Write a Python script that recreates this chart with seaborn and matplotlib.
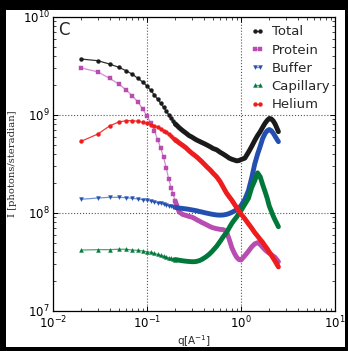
import numpy as np
import pandas as pd
import seaborn as sns
import matplotlib
matplotlib.use("Agg")
import matplotlib.pyplot as plt
from matplotlib.patches import Rectangle

# scattering vector q [1/A]
q = [0.02, 0.03, 0.04, 0.05, 0.06, 0.07, 0.08, 0.09, 0.10, 0.11,
     0.12, 0.13, 0.14, 0.15, 0.16, 0.17, 0.18, 0.19, 0.20,
     0.22, 0.24, 0.26, 0.28, 0.30, 0.32, 0.34, 0.36, 0.38, 0.40,
     0.42, 0.44, 0.46, 0.48, 0.50,
     0.55, 0.60, 0.65, 0.70, 0.75, 0.80, 0.85, 0.90, 0.95, 1.0,
     1.1, 1.2, 1.3, 1.4, 1.5, 1.6, 1.7, 1.8, 1.9, 2.0,
     2.1, 2.2, 2.3, 2.4, 2.5]

# log10 of intensity [photons/steradian]
log_total = [9.571, 9.554, 9.520, 9.487, 9.452, 9.415, 9.374, 9.337, 9.296, 9.250,
             9.204, 9.160, 9.119, 9.078, 9.040, 9.003, 8.969, 8.939, 8.910,
             8.870, 8.840, 8.815, 8.790, 8.775, 8.758, 8.743, 8.732, 8.721, 8.711,
             8.701, 8.691, 8.681, 8.671, 8.660,
             8.645, 8.620, 8.600, 8.580, 8.560, 8.548, 8.540, 8.532, 8.535, 8.545,
             8.560, 8.620, 8.680, 8.740, 8.790, 8.830, 8.875, 8.915, 8.945, 8.965,
             8.960, 8.940, 8.910, 8.870, 8.830]
log_protein = [9.480, 9.440, 9.374, 9.316, 9.255, 9.194, 9.133, 9.061, 8.990, 8.915,
               8.837, 8.748, 8.660, 8.570, 8.460, 8.350, 8.260, 8.190, 8.120,
               8.010, 7.985, 7.975, 7.965, 7.958, 7.945, 7.930, 7.918, 7.905, 7.895,
               7.885, 7.875, 7.865, 7.857, 7.850,
               7.840, 7.833, 7.830, 7.810, 7.730, 7.645, 7.590, 7.548, 7.525, 7.520,
               7.565, 7.610, 7.655, 7.685, 7.697, 7.680, 7.650, 7.625, 7.605, 7.590,
               7.575, 7.560, 7.548, 7.525, 7.503]
log_buffer = [8.140, 8.153, 8.160, 8.160, 8.156, 8.150, 8.143, 8.136, 8.130, 8.122,
              8.113, 8.103, 8.097, 8.090, 8.082, 8.075, 8.068, 8.062, 8.057,
              8.050, 8.046, 8.042, 8.037, 8.032, 8.027, 8.022, 8.016, 8.011, 8.006,
              8.001, 7.997, 7.993, 7.989, 7.986,
              7.980, 7.978, 7.980, 7.986, 7.995, 8.007, 8.020, 8.035, 8.052, 8.075,
              8.140, 8.230, 8.360, 8.500, 8.600, 8.680, 8.760, 8.810, 8.840, 8.852,
              8.840, 8.815, 8.785, 8.755, 8.728]
log_capillary = [7.622, 7.626, 7.626, 7.630, 7.630, 7.622, 7.619, 7.612, 7.605, 7.597,
                 7.587, 7.577, 7.568, 7.559, 7.551, 7.543, 7.536, 7.530, 7.525,
                 7.518, 7.512, 7.508, 7.505, 7.503, 7.503, 7.507, 7.514, 7.524, 7.537,
                 7.550, 7.565, 7.580, 7.597, 7.615,
                 7.660, 7.710, 7.760, 7.800, 7.850, 7.895, 7.930, 7.960, 7.995, 8.025,
                 8.090, 8.150, 8.260, 8.330, 8.410, 8.370, 8.290, 8.220, 8.150, 8.070,
                 8.020, 7.970, 7.930, 7.895, 7.860]
log_helium = [8.732, 8.806, 8.888, 8.929, 8.942, 8.942, 8.936, 8.925, 8.915, 8.903,
              8.890, 8.874, 8.857, 8.840, 8.822, 8.803, 8.785, 8.766, 8.748,
              8.715, 8.690, 8.665, 8.635, 8.610, 8.590, 8.570, 8.548, 8.527, 8.505,
              8.485, 8.465, 8.448, 8.430, 8.410,
              8.370, 8.320, 8.260, 8.205, 8.165, 8.130, 8.090, 8.055, 8.020, 7.990,
              7.940, 7.890, 7.845, 7.800, 7.765, 7.730, 7.700, 7.665, 7.635, 7.600,
              7.571, 7.540, 7.510, 7.480, 7.450]

series = ["Total", "Protein", "Buffer", "Capillary", "Helium"]
values = [log_total, log_protein, log_buffer, log_capillary, log_helium]
markers = ["o", "s", "v", "^", "o"]
line_colors = ["#303030", "#d58fd0", "#7393d2", "#4fa574", "#f23a3a"]
mark_colors = ["#1a1a1a", "#b84cb0", "#2350b0", "#00783a", "#ee1c1c"]

sns.set_theme(style="white", rc={
    "xtick.direction": "in", "ytick.direction": "in",
    "xtick.top": True, "ytick.right": True,
    "xtick.bottom": True, "ytick.left": True,
    "axes.edgecolor": "black", "axes.linewidth": 0.9,
    "xtick.major.size": 3.5, "ytick.major.size": 3.5,
    "xtick.minor.size": 2, "ytick.minor.size": 2,
    "xtick.major.width": 0.7, "ytick.major.width": 0.7,
    "xtick.minor.width": 0.5, "ytick.minor.width": 0.5,
    "xtick.color": "black", "ytick.color": "black",
})
plt.rcParams["font.family"] = ["DejaVu Sans"]

fig = plt.figure(figsize=(3.48, 3.51), dpi=100)
fig.patch.set_facecolor("black")
fig.patches.append(Rectangle((6 / 348, 4 / 351), 339 / 348, 337 / 351,
                             transform=fig.transFigure, facecolor="white",
                             edgecolor="none", zorder=-10))
ax = fig.add_axes([53 / 348, 40 / 351, 282 / 348, 294 / 351])
ax.set_facecolor("white")

# samples are far apart below q = 0.2, further on they merge into a thick band
n_sparse = 19
for name, vals, mk, lc, mc in zip(series, values, markers, line_colors, mark_colors):
    df = pd.DataFrame({"q": q, "I": 10 ** np.array(vals)})
    sns.lineplot(data=df.iloc[:n_sparse], x="q", y="I", ax=ax, label=name, color=lc,
                 marker=mk, markersize=2.8, markerfacecolor=mc,
                 markeredgecolor=mc, markeredgewidth=0.3, linewidth=0.9)
    sns.lineplot(data=df.iloc[n_sparse - 1:], x="q", y="I", ax=ax, color=mc,
                 linewidth=3.5, solid_capstyle="round", solid_joinstyle="round",
                 legend=False)

ax.set_xscale("log")
ax.set_yscale("log")
ax.set_xlim(1e-2, 1e1)
ax.set_ylim(1e7, 1e10)
ax.grid(True, which="major", linestyle=":", color="#555555", linewidth=0.8)
ax.minorticks_on()
ax.tick_params(axis="both", which="both", labelsize=8.5)
ax.tick_params(axis="y", which="major", pad=2.5)
ax.tick_params(axis="x", which="major", pad=2.5)

ax.set_xlabel("q[A$^{-1}$]", fontsize=7.5, labelpad=1.5)
ax.set_ylabel("I [photons/steradian]", fontsize=7.2, family="DejaVu Serif")
ax.yaxis.set_label_coords(-0.128, 0.5)

ax.text(0.018, 0.985, "C", transform=ax.transAxes, ha="left", va="top", fontsize=12)

ax.legend(loc="upper left", bbox_to_anchor=(0.703, 0.972), frameon=False,
          numpoints=2, fontsize=9.5, handlelength=1.0, handletextpad=0.55,
          labelspacing=0.4, borderpad=0, borderaxespad=0)

fig.savefig("out.png", dpi=100, facecolor=fig.get_facecolor())
